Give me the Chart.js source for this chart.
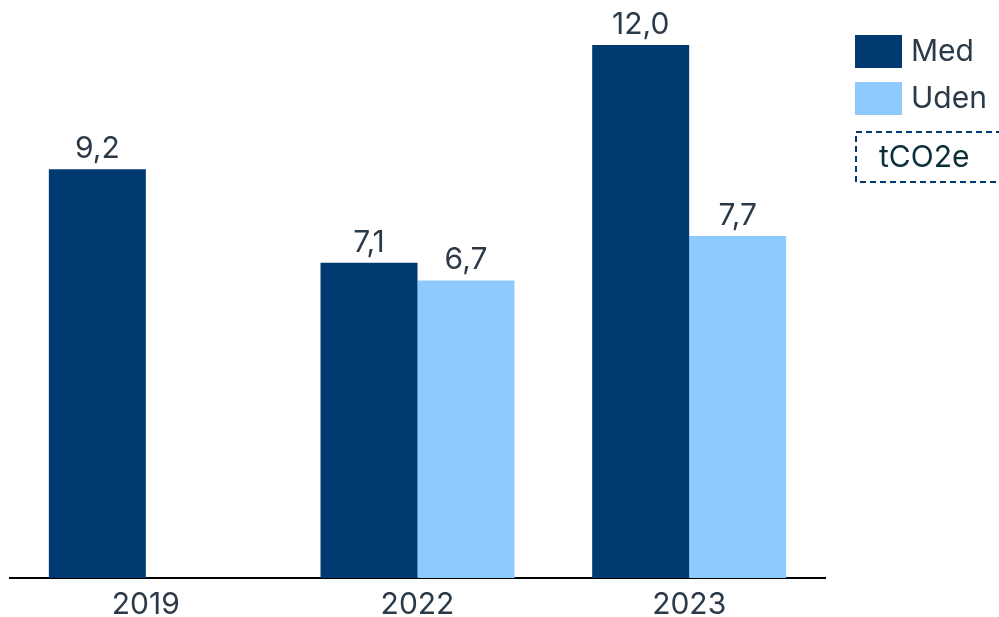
<!DOCTYPE html>
<html>
<head>
<meta charset="utf-8">
<script src="https://cdn.jsdelivr.net/npm/chart.js@4"></script>
<style>
  html, body { margin: 0; padding: 0; background: #fff; }
  #wrap { width: 999px; height: 617px; position: relative; }
</style>
</head>
<body>
<div id="wrap"><canvas id="chart" width="999" height="617"></canvas></div>
<script>
const aar = ['2019', '2022', '2023'];
const med = [9.2, 7.1, 12.0];
const uden = [null, 6.7, 7.7];
const enhed = 'tCO2e';

const morkBla = '#003a70';
const lysBla = '#8fcaff';
const tekstFarve = '#2b3a48';
const skrift = '30px Inter, "Noto Sans", sans-serif';

// værdier over søjlerne, med komma som decimaltegn
const vaerdiLabels = {
  id: 'vaerdiLabels',
  afterDatasetsDraw(chart) {
    const ctx = chart.ctx;
    ctx.save();
    ctx.font = skrift;
    ctx.fillStyle = tekstFarve;
    ctx.textAlign = 'center';
    ctx.textBaseline = 'bottom';
    chart.data.datasets.forEach((ds, i) => {
      chart.getDatasetMeta(i).data.forEach((bar, j) => {
        const v = ds.data[j];
        if (v === null || v === undefined) return;
        ctx.fillText(v.toFixed(1).replace('.', ','), bar.x, bar.y - 5);
      });
    });
    ctx.restore();
  }
};

// forklaring til højre, tegnet ud fra datasættene
const forklaring = {
  id: 'forklaring',
  afterDraw(chart) {
    const ctx = chart.ctx;
    ctx.save();
    ctx.font = skrift;
    ctx.textBaseline = 'middle';
    chart.data.datasets.forEach((ds, i) => {
      const y = 35 + i * 47;
      ctx.fillStyle = ds.backgroundColor;
      ctx.fillRect(855, y, 47, 33);
      ctx.fillStyle = tekstFarve;
      ctx.fillText(ds.label, 911, y + 17);
    });
    ctx.strokeStyle = morkBla;
    ctx.lineWidth = 2;
    ctx.setLineDash([6, 4]);
    ctx.strokeRect(856, 132, 160, 50);
    ctx.setLineDash([]);
    ctx.fillStyle = '#0b2f3a';
    ctx.fillText(enhed, 879, 158);
    ctx.restore();
  }
};

new Chart(document.getElementById('chart'), {
  type: 'bar',
  data: {
    labels: aar,
    datasets: [
      { label: 'Med', data: med, backgroundColor: morkBla },
      { label: 'Uden', data: uden, backgroundColor: lysBla }
    ]
  },
  options: {
    responsive: false,
    animation: false,
    layout: { padding: { top: 45, left: 10, right: 174, bottom: 0 } },
    datasets: { bar: { categoryPercentage: 0.714, barPercentage: 1.0 } },
    plugins: {
      legend: { display: false },
      tooltip: { enabled: false }
    },
    scales: {
      x: {
        grid: { display: false },
        border: { display: true, color: '#000', width: 2 },
        ticks: { color: tekstFarve, font: { family: 'Inter, "Noto Sans", sans-serif', size: 30 }, padding: 1 },
        afterFit(scale) { scale.height = 39; }
      },
      y: {
        display: false,
        min: 0,
        max: 12
      }
    }
  },
  plugins: [vaerdiLabels, forklaring]
});
</script>
</body>
</html>
